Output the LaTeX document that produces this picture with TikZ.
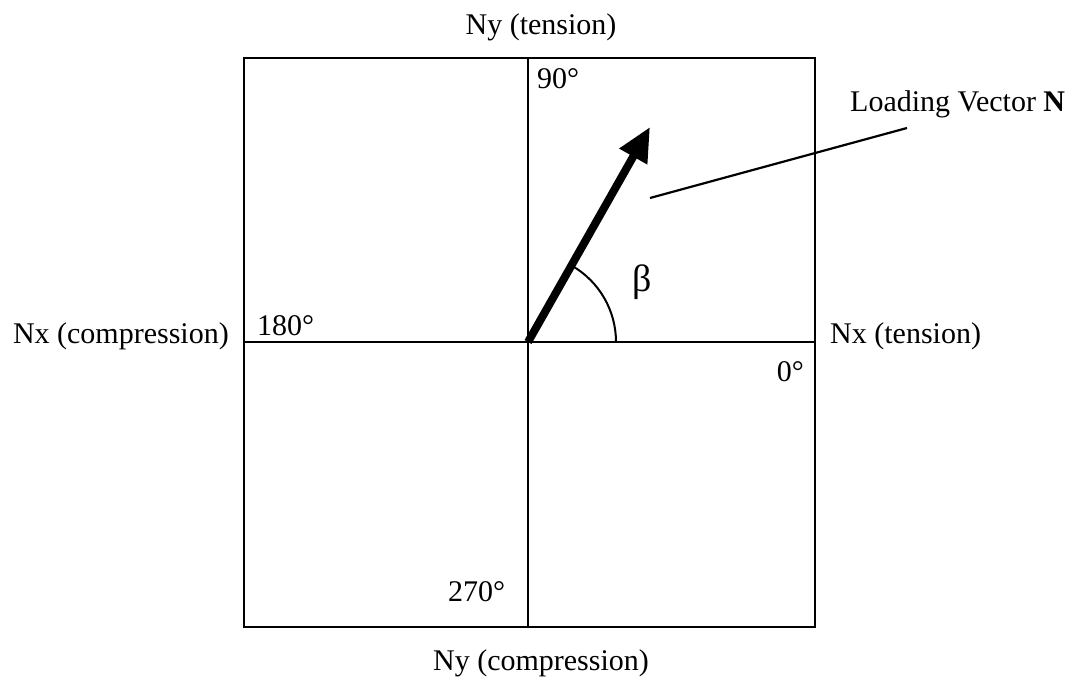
\documentclass[tikz,border=0pt]{standalone}
\usepackage{fontspec}
\setmainfont{Liberation Serif}
\usetikzlibrary{arrows.meta}
\begin{document}
\begin{tikzpicture}[x=1pt,y=-1pt,
  frame/.style={line width=2.5pt},
  lbl/.style={font=\fontsize{30}{34}\selectfont, inner sep=0pt},
  vec/.style={line width=8pt, -{Triangle[length=34pt,width=30pt]}},
  leader/.style={line width=2.2pt},
  angarc/.style={line width=2pt}]
\useasboundingbox (0,0) rectangle (1078,679);
\coordinate (tl) at (244,58);
\coordinate (br) at (815,627);
\coordinate (o) at (528,342);
\coordinate (top) at (528,58);
\coordinate (bot) at (528,627);
\coordinate (left) at (244,342);
\coordinate (right) at (815,342);
\draw[frame] (tl) rectangle (br);
\draw[frame] (top) -- (bot);
\draw[frame] (left) -- (right);
% labels
\node[lbl, anchor=base] (nyt) at (541,35) {Ny (tension)};
\node[lbl, anchor=base] (nyc) at (541,670) {Ny (compression)};
\node[lbl, anchor=base east] (nxc) at (229,343) {Nx (compression)};
\node[lbl, anchor=base west] (nxt) at (830,343) {Nx (tension)};
\node[lbl, anchor=base west] (d90) at (537,89) {90°};
\node[lbl, anchor=base west] (d180) at (257,335) {180°};
\node[lbl, anchor=base east] (d0) at (804,381) {0°};
\node[lbl, anchor=base west] (d270) at (448,601) {270°};
% vector
\coordinate (tip) at (650,127);
\draw[vec] (o) -- (tip);
\draw[angarc] ([shift={(0:88)}]o) arc[start angle=0, end angle=-60, radius=88];
\node[font=\fontsize{38}{40}\selectfont, inner sep=0pt] (beta) at (642,282) {β};
% leader
\node[lbl, anchor=base west] (lv) at (850,112) {Loading Vector \textbf{N}};
\coordinate (lstart) at (650,198);
\coordinate (lend) at (907,128);
\draw[leader] (lstart) -- (lend);
\end{tikzpicture}
\end{document}
